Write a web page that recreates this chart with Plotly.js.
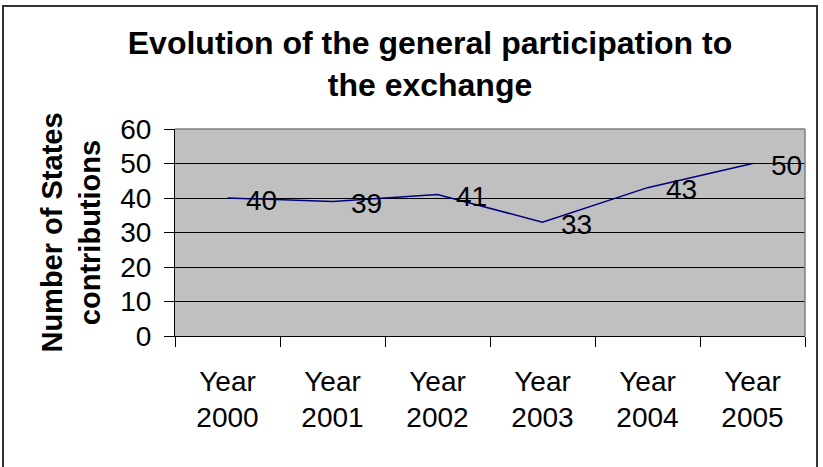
<!DOCTYPE html>
<html>
<head>
<meta charset="utf-8">
<script src="https://cdn.plot.ly/plotly-3.0.1.min.js"></script>
<style>
  html, body { margin: 0; padding: 0; background: #fff; }
  #wrap { position: relative; width: 823px; height: 467px; }
  #chart { width: 823px; height: 467px; }
  #frame { position: absolute; left: 2px; top: 5px; width: 816px; height: 470px;
           border: 2px solid #333; pointer-events: none; box-sizing: border-box; }
</style>
</head>
<body>
<div id="wrap">
  <div id="chart"></div>
  <div id="frame"></div>
</div>
<script>
const categories = ["Year<br>2000", "Year<br>2001", "Year<br>2002", "Year<br>2003", "Year<br>2004", "Year<br>2005"];
const values = [40, 39, 41, 33, 43, 50];
const yTicks = [0, 10, 20, 30, 40, 50, 60];
const chartTitle = "Evolution of the general participation to<br>the exchange";
const yTitle = "Number of States<br>contributions";

const FONT = "Liberation Sans, Arial, sans-serif";

const trace = {
  type: "scatter",
  mode: "lines",
  x: categories,
  y: values,
  line: { color: "#000080", width: 1.5 },
  hoverinfo: "skip",
  showlegend: false
};

const annotations = categories.map((c, i) => ({
  x: c, y: values[i], xref: "x", yref: "y",
  text: String(values[i]),
  showarrow: false,
  xanchor: "left", yanchor: "middle",
  xshift: 16, yshift: -2,
  font: { family: FONT, size: 28, color: "#000" }
}));

const layout = {
  width: 823, height: 467,
  margin: { l: 175, r: 18, t: 129, b: 131 },
  paper_bgcolor: "#ffffff",
  plot_bgcolor: "#c0c0c0",
  font: { family: FONT, size: 28, color: "#000" },
  title: {
    text: chartTitle,
    font: { family: FONT, size: 32, color: "#000", weight: "bold" },
    x: 430 / 823, xref: "container", xanchor: "center",
    y: 1 - 54 / 467, yref: "container", yanchor: "top"
  },
  xaxis: {
    type: "category",
    range: [-0.5, 5.5],
    showgrid: false,
    zeroline: false,
    showline: true, linecolor: "#000", linewidth: 1,
    ticks: "outside", ticklen: 10, tickcolor: "#000", tickwidth: 1,
    tickson: "boundaries",
    ticklabelstandoff: 20,
    tickfont: { family: FONT, size: 28, color: "#000" },
    fixedrange: true
  },
  yaxis: {
    range: [0, 60],
    tickvals: yTicks,
    ticktext: yTicks.map(String),
    showgrid: true, gridcolor: "#000", gridwidth: 1,
    zeroline: false,
    showline: true, linecolor: "#000", linewidth: 1,
    ticks: "outside", ticklen: 10, tickcolor: "#000", tickwidth: 1,
    ticklabelstandoff: 7,
    tickfont: { family: FONT, size: 28, color: "#000" },
    title: {
      text: yTitle,
      font: { family: FONT, size: 29, color: "#000", weight: "bold" },
      standoff: 11
    },
    automargin: false,
    fixedrange: true
  },
  shapes: [
    { type: "line", xref: "paper", yref: "paper", x0: 0, x1: 1, y0: 1, y1: 1,
      line: { color: "#808080", width: 1.5 } },
    { type: "line", xref: "paper", yref: "paper", x0: 1, x1: 1, y0: 0, y1: 1,
      line: { color: "#808080", width: 1.5 } }
  ],
  annotations: annotations
};

Plotly.newPlot("chart", [trace], layout, { displayModeBar: false, staticPlot: true });
</script>
</body>
</html>
